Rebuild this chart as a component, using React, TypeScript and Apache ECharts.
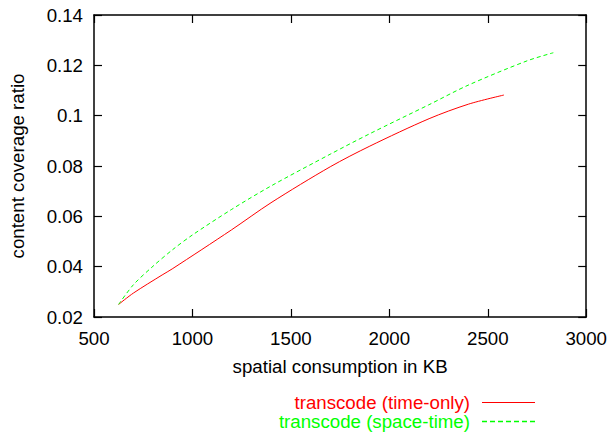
import React, { useEffect, useRef } from "react";
import * as echarts from "echarts";

const xTicks = [500, 1000, 1500, 2000, 2500, 3000];
const yTicks = [0.02, 0.04, 0.06, 0.08, 0.1, 0.12, 0.14];

const timeOnlyX = [625, 700, 846, 897, 1198, 1399, 1700, 1901, 2202, 2403, 2582];
const timeOnlyY = [0.025, 0.0295, 0.0367, 0.0391, 0.0546, 0.0654, 0.0797, 0.0879, 0.0988, 0.1046, 0.1082];

const spaceTimeX = [625, 700, 800, 900, 1000, 1200, 1400, 1700, 1900, 2200, 2400, 2700, 2833];
const spaceTimeY = [0.025, 0.0328, 0.0402, 0.0468, 0.0526, 0.0628, 0.0721, 0.0847, 0.0928, 0.1043, 0.1121, 0.1218, 0.125];

const seriesNames = ["transcode (time-only)", "transcode (space-time)"];
const seriesColors = ["#ff0000", "#00ff00"];

const FONT = "Liberation Sans, Arial, Helvetica, sans-serif";
const FS = 18.7;

export default function App() {
  const ref = useRef<HTMLDivElement>(null);
  useEffect(() => {
    document.body.style.margin = "0";
    if (!ref.current) return;
    const chart = echarts.init(ref.current, undefined, { renderer: "svg" });
    const axisLine = { show: true, lineStyle: { color: "#000", width: 1.5 } };
    const tick = { show: true, inside: true, length: 8, lineStyle: { color: "#000", width: 1.2 } };
    const xMin = xTicks[0];
    const xMax = xTicks[xTicks.length - 1];
    const xInt = xTicks[1] - xTicks[0];
    const yMin = yTicks[0];
    const yMax = yTicks[yTicks.length - 1];
    const yInt = 0.02;
    const legendY = [402.5, 421.5];
    chart.setOption({
      animation: false,
      backgroundColor: "#fff",
      textStyle: { fontFamily: FONT },
      grid: { left: 91, top: 15, right: 21, bottom: 115, containLabel: false },
      xAxis: [
        {
          type: "value",
          min: xMin,
          max: xMax,
          interval: xInt,
          position: "bottom",
          name: "spatial consumption in KB",
          nameLocation: "middle",
          nameGap: 40,
          nameTextStyle: { fontSize: FS, color: "#000", fontFamily: FONT },
          axisLine,
          axisTick: tick,
          splitLine: { show: false },
          axisLabel: {
            fontSize: FS,
            color: "#000",
            margin: 12,
            fontFamily: FONT,
            formatter: (v: number) => String(v),
          },
        },
        {
          type: "value",
          min: xMin,
          max: xMax,
          interval: xInt,
          position: "top",
          axisLine,
          axisTick: tick,
          splitLine: { show: false },
          axisLabel: { show: false },
        },
      ],
      yAxis: [
        {
          type: "value",
          min: yMin,
          max: yMax,
          interval: yInt,
          position: "left",
          name: "content coverage ratio",
          nameLocation: "middle",
          nameGap: 67,
          nameTextStyle: { fontSize: FS, color: "#000", fontFamily: FONT },
          axisLine,
          axisTick: tick,
          splitLine: { show: false },
          axisLabel: {
            fontSize: FS,
            color: "#000",
            margin: 11,
            fontFamily: FONT,
            formatter: (v: number) => String(parseFloat(v.toFixed(2))),
          },
        },
        {
          type: "value",
          min: yMin,
          max: yMax,
          interval: yInt,
          position: "right",
          axisLine,
          axisTick: tick,
          splitLine: { show: false },
          axisLabel: { show: false },
        },
      ],
      graphic: seriesNames.flatMap((n, i) => [
        {
          type: "text",
          x: 470,
          y: legendY[i],
          style: {
            text: n,
            fill: seriesColors[i],
            font: `${FS}px ${FONT}`,
            textAlign: "right",
            textVerticalAlign: "middle",
          },
        },
        {
          type: "line",
          shape: { x1: 482, y1: legendY[i], x2: 535, y2: legendY[i] },
          style: {
            stroke: seriesColors[i],
            lineWidth: i === 1 ? 1.4 : 1,
            lineDash: i === 1 ? [5, 3] : null,
          },
        },
      ]),
      series: [
        {
          name: seriesNames[0],
          type: "line",
          data: timeOnlyX.map((x, i) => [x, timeOnlyY[i]]),
          smooth: 0.3,
          symbol: "none",
          lineStyle: { color: seriesColors[0], width: 1 },
          itemStyle: { color: seriesColors[0] },
        },
        {
          name: seriesNames[1],
          type: "line",
          data: spaceTimeX.map((x, i) => [x, spaceTimeY[i]]),
          smooth: 0.3,
          symbol: "none",
          lineStyle: { color: seriesColors[1], width: 1, type: [4, 3] },
          itemStyle: { color: seriesColors[1] },
        },
      ],
    });
    return () => chart.dispose();
  }, []);
  return <div ref={ref} style={{ width: 610, height: 432 }} />;
}
